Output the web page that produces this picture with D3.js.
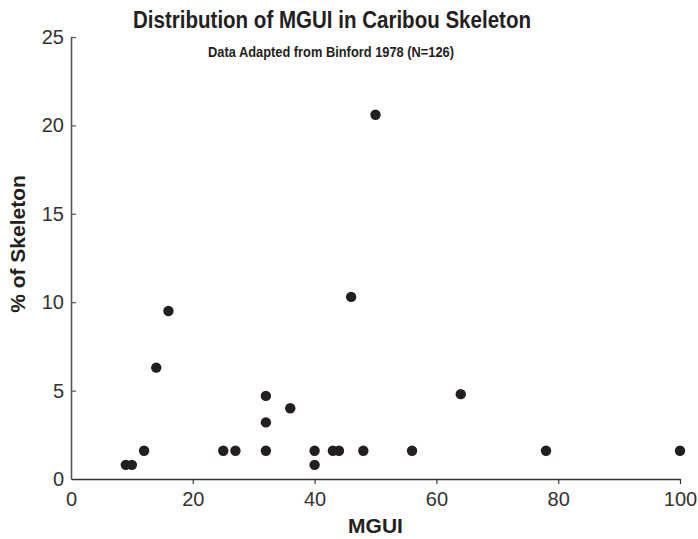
<!DOCTYPE html>
<html><head><meta charset="utf-8">
<script src="https://cdn.jsdelivr.net/npm/d3@7"></script>
<style>body{margin:0;background:#fff}svg{display:block}text{font-family:"Liberation Sans",Arial,Helvetica,sans-serif}</style>
</head><body>
<script>
const mgui = [9, 10, 12, 14, 16, 25, 27, 32, 32, 32, 36, 40, 40, 43, 44, 46, 48, 50, 56, 64, 78, 100];
const pctSkeleton = [0.8, 0.8, 1.6, 6.3, 9.5, 1.6, 1.6, 4.7, 3.2, 1.6, 4.0, 1.6, 0.8, 1.6, 1.6, 10.3, 1.6, 20.6, 1.6, 4.8, 1.6, 1.6];
const xTicks = [0, 20, 40, 60, 80, 100];
const yTicks = [0, 5, 10, 15, 20, 25];
const title = "Distribution of MGUI in Caribou Skeleton";
const subtitle = "Data Adapted from Binford 1978 (N=126)";
const xLabel = "MGUI";
const yLabel = "% of Skeleton";

const W = 698, H = 539;
const m = {left: 71, right: 18, top: 37, bottom: 60};
const svg = d3.select("body").append("svg").attr("width", W).attr("height", H);
const x = d3.scaleLinear().domain([0, 100]).range([m.left, W - m.right]);
const y = d3.scaleLinear().domain([0, 25]).range([H - m.bottom, m.top]);

// x axis
const gx = svg.append("g").attr("transform", `translate(0,${H - m.bottom})`)
  .call(d3.axisBottom(x).tickValues(xTicks).tickSize(5).tickSizeOuter(0).tickPadding(8));
gx.select(".domain").attr("stroke", "#333").attr("stroke-width", 1.3);
gx.selectAll(".tick line").attr("stroke", "#333").attr("stroke-width", 1.2)
  .filter(d => d === 0).remove();
gx.selectAll(".tick text").attr("font-size", 20).attr("fill", "#333")
  .attr("font-family", "Liberation Sans, Arial, sans-serif");

// y axis
const gy = svg.append("g").attr("transform", `translate(${m.left},0)`)
  .call(d3.axisLeft(y).tickValues(yTicks).tickSize(-5).tickSizeOuter(0).tickPadding(7));
gy.select(".domain").attr("stroke", "#555").attr("stroke-width", 1.6);
gy.selectAll(".tick line").attr("stroke", "#555").attr("stroke-width", 1.2)
  .filter(d => d === 0).remove();
gy.selectAll(".tick text").attr("font-size", 20).attr("fill", "#333")
  .attr("x", -7).attr("font-family", "Liberation Sans, Arial, sans-serif");

// points
svg.append("g").selectAll("circle").data(mgui).join("circle")
  .attr("cx", d => x(d)).attr("cy", (d, i) => y(pctSkeleton[i]))
  .attr("r", 5.2).attr("fill", "#231f20");

// titles
svg.append("text").attr("x", 133).attr("y", 28)
  .attr("font-size", 23).attr("font-weight", "bold").attr("fill", "#231f20")
  .attr("textLength", 398).attr("lengthAdjust", "spacingAndGlyphs").text(title);
svg.append("text").attr("x", 208).attr("y", 57)
  .attr("font-size", 15).attr("font-weight", "bold").attr("fill", "#231f20")
  .attr("textLength", 246).attr("lengthAdjust", "spacingAndGlyphs").text(subtitle);
svg.append("text").attr("x", x(50)).attr("y", 533).attr("text-anchor", "middle")
  .attr("font-size", 21).attr("font-weight", "bold").attr("fill", "#231f20").text(xLabel);
svg.append("text").attr("transform", `translate(24.5,244) rotate(-90)`).attr("text-anchor", "middle")
  .attr("font-size", 21).attr("font-weight", "bold").attr("fill", "#231f20").text(yLabel);
</script>
</body></html>
